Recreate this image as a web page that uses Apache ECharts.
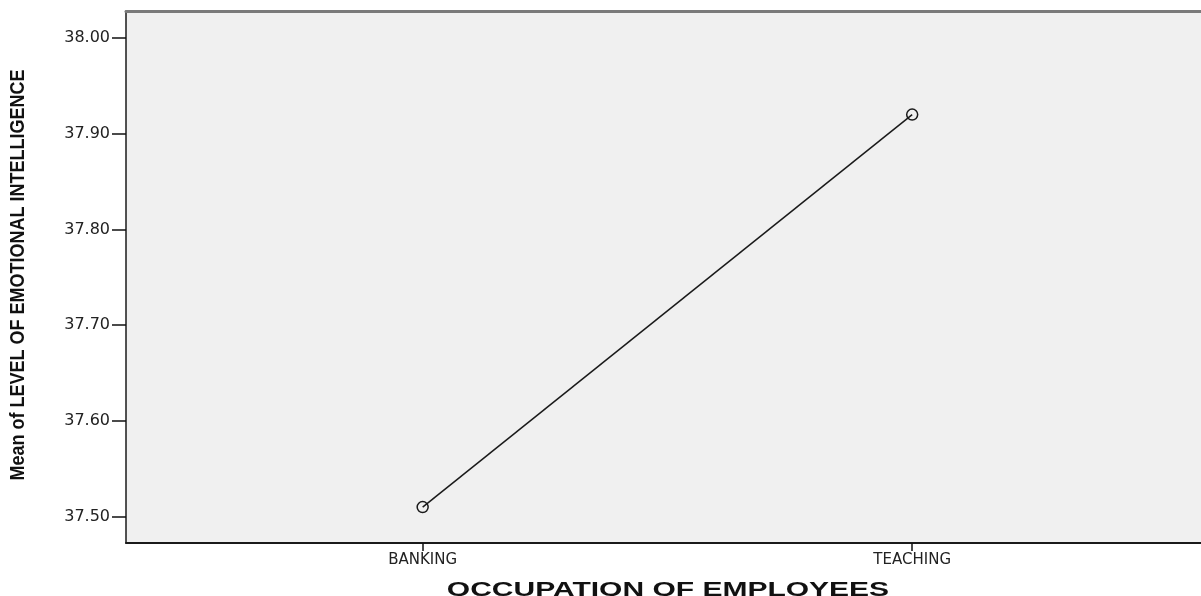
<!DOCTYPE html>
<html>
<head>
<meta charset="utf-8">
<script src="https://cdn.jsdelivr.net/npm/echarts@6/dist/echarts.min.js"></script>
<style>
html,body{margin:0;padding:0;background:#fff;}
#chart{width:1201px;height:596px;}
</style>
</head>
<body>
<div id="chart"></div>
<script>
var categories = ['BANKING', 'TEACHING'];
var meanValues = [37.51, 37.92];
var yTickValues = [37.50, 37.60, 37.70, 37.80, 37.90, 38.00];
var xTitle = 'OCCUPATION OF EMPLOYEES';
var yTitle = 'Mean of LEVEL OF EMOTIONAL INTELLIGENCE';

var points = meanValues.map(function (v, i) { return [i, v]; });
var catIdx = categories.map(function (c, i) { return i; });

var chart = echarts.init(document.getElementById('chart'), null, {renderer: 'canvas'});
chart.setOption({
  animation: false,
  backgroundColor: '#ffffff',
  grid: {
    left: 126, top: 11, right: 0, bottom: 53,
    outerBoundsMode: 'none',
    containLabel: false,
    show: true, backgroundColor: '#f0f0f0', borderWidth: 0
  },
  graphic: [{
    type: 'text',
    x: 668, y: 590,
    scaleX: 1.5,
    style: {
      text: xTitle,
      fontFamily: 'Liberation Sans, Arial, sans-serif',
      fontWeight: 'bold', fontSize: 20, fill: '#111',
      align: 'center', verticalAlign: 'middle'
    },
    silent: true
  }, {
    type: 'text',
    x: 18, y: 275,
    rotation: Math.PI / 2,
    scaleX: 0.9,
    style: {
      text: yTitle,
      fontFamily: 'Liberation Sans, Arial, sans-serif',
      fontWeight: 'bold', fontSize: 20, fill: '#111',
      align: 'center', verticalAlign: 'middle'
    },
    silent: true
  }],
  xAxis: [{
    type: 'value',
    min: -0.606, max: 1.59,
    position: 'bottom',
    splitLine: {show: false},
    axisLine: {show: true, onZero: false, lineStyle: {color: '#1a1a1a', width: 2}},
    axisTick: {show: true, customValues: catIdx, length: 8, lineStyle: {color: '#111', width: 1.5}},
    axisLabel: {
      customValues: catIdx,
      formatter: function (v) { return categories[Math.round(v)] || ''; },
      fontFamily: 'DejaVu Sans', fontSize: 15, color: '#222', margin: 10
    }
  }, {
    type: 'value',
    min: -0.606, max: 1.59,
    position: 'top',
    splitLine: {show: false},
    axisLine: {show: true, onZero: false, lineStyle: {color: '#7a7a7a', width: 3}},
    axisTick: {show: false},
    axisLabel: {show: false}
  }],
  yAxis: {
    type: 'value',
    min: 37.4725, max: 38.0282,
    splitLine: {show: false},
    axisLine: {show: true, onZero: false, lineStyle: {color: '#1a1a1a', width: 1.5}},
    axisTick: {show: true, customValues: yTickValues, length: 14, lineStyle: {color: '#111', width: 1.5}},
    axisLabel: {
      customValues: yTickValues,
      formatter: function (v) { return v.toFixed(2); },
      fontFamily: 'DejaVu Sans', fontSize: 16, color: '#222', margin: 16
    }
  },
  series: [{
    type: 'line',
    xAxisIndex: 0,
    data: points,
    symbol: 'circle',
    symbolSize: 11,
    itemStyle: {color: 'transparent', borderColor: '#1a1a1a', borderWidth: 1.5},
    lineStyle: {color: '#1a1a1a', width: 1.5},
    emphasis: {disabled: true}
  }]
});
</script>
</body>
</html>
